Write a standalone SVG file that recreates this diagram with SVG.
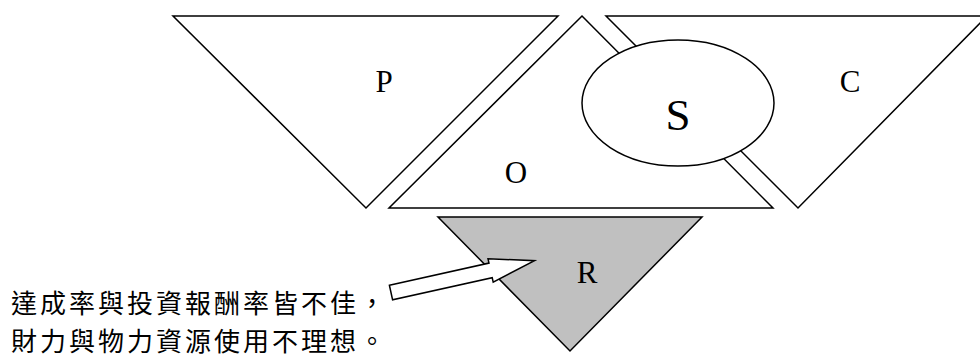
<svg xmlns="http://www.w3.org/2000/svg" width="980" height="358" viewBox="0 0 980 358">
<style>
.shape{fill:#ffffff;stroke:#000000;stroke-width:1.5;stroke-linejoin:miter}
.gray{fill:#c0c0c0}
.lbl{font-family:"Liberation Serif","Times New Roman",serif;font-size:31px;fill:#000;text-anchor:middle}
.big{font-size:45px}
.cjk{font-family:"Noto Sans CJK TC","Noto Sans CJK SC",sans-serif;font-size:26px;letter-spacing:3px;fill:#000}
</style>
<rect width="980" height="358" fill="#ffffff"/>
<g id="node-P">
<polygon class="shape" points="173,16 558,16 366,208"/>
<text class="lbl" x="384" y="92">P</text>
</g>
<g id="node-O">
<polygon class="shape" points="582,16 773,208 389,208"/>
<text class="lbl" x="516" y="183">O</text>
</g>
<g id="node-C">
<polygon class="shape" points="606,16 987,16 798,208"/>
<text class="lbl" x="850" y="92">C</text>
</g>
<g id="node-S">
<ellipse class="shape" cx="678" cy="103" rx="96" ry="63"/>
<text class="lbl big" x="678" y="130">S</text>
</g>
<g id="node-R">
<polygon class="shape gray" points="438,217 702,217 570,351"/>
<text class="lbl" x="587" y="283">R</text>
</g>
<g id="connectors">
<polygon class="shape" points="389.4,285.2 489,263.1 488,258.7 534.5,260.7 493.2,282.1 492.2,277.7 392.6,299.8"/>
</g>
<g id="note">
<text class="cjk" x="11" y="313">達成率與投資報酬率皆不佳，</text>
<text class="cjk" x="11" y="351">財力與物力資源使用不理想。</text>
</g>
</svg>
